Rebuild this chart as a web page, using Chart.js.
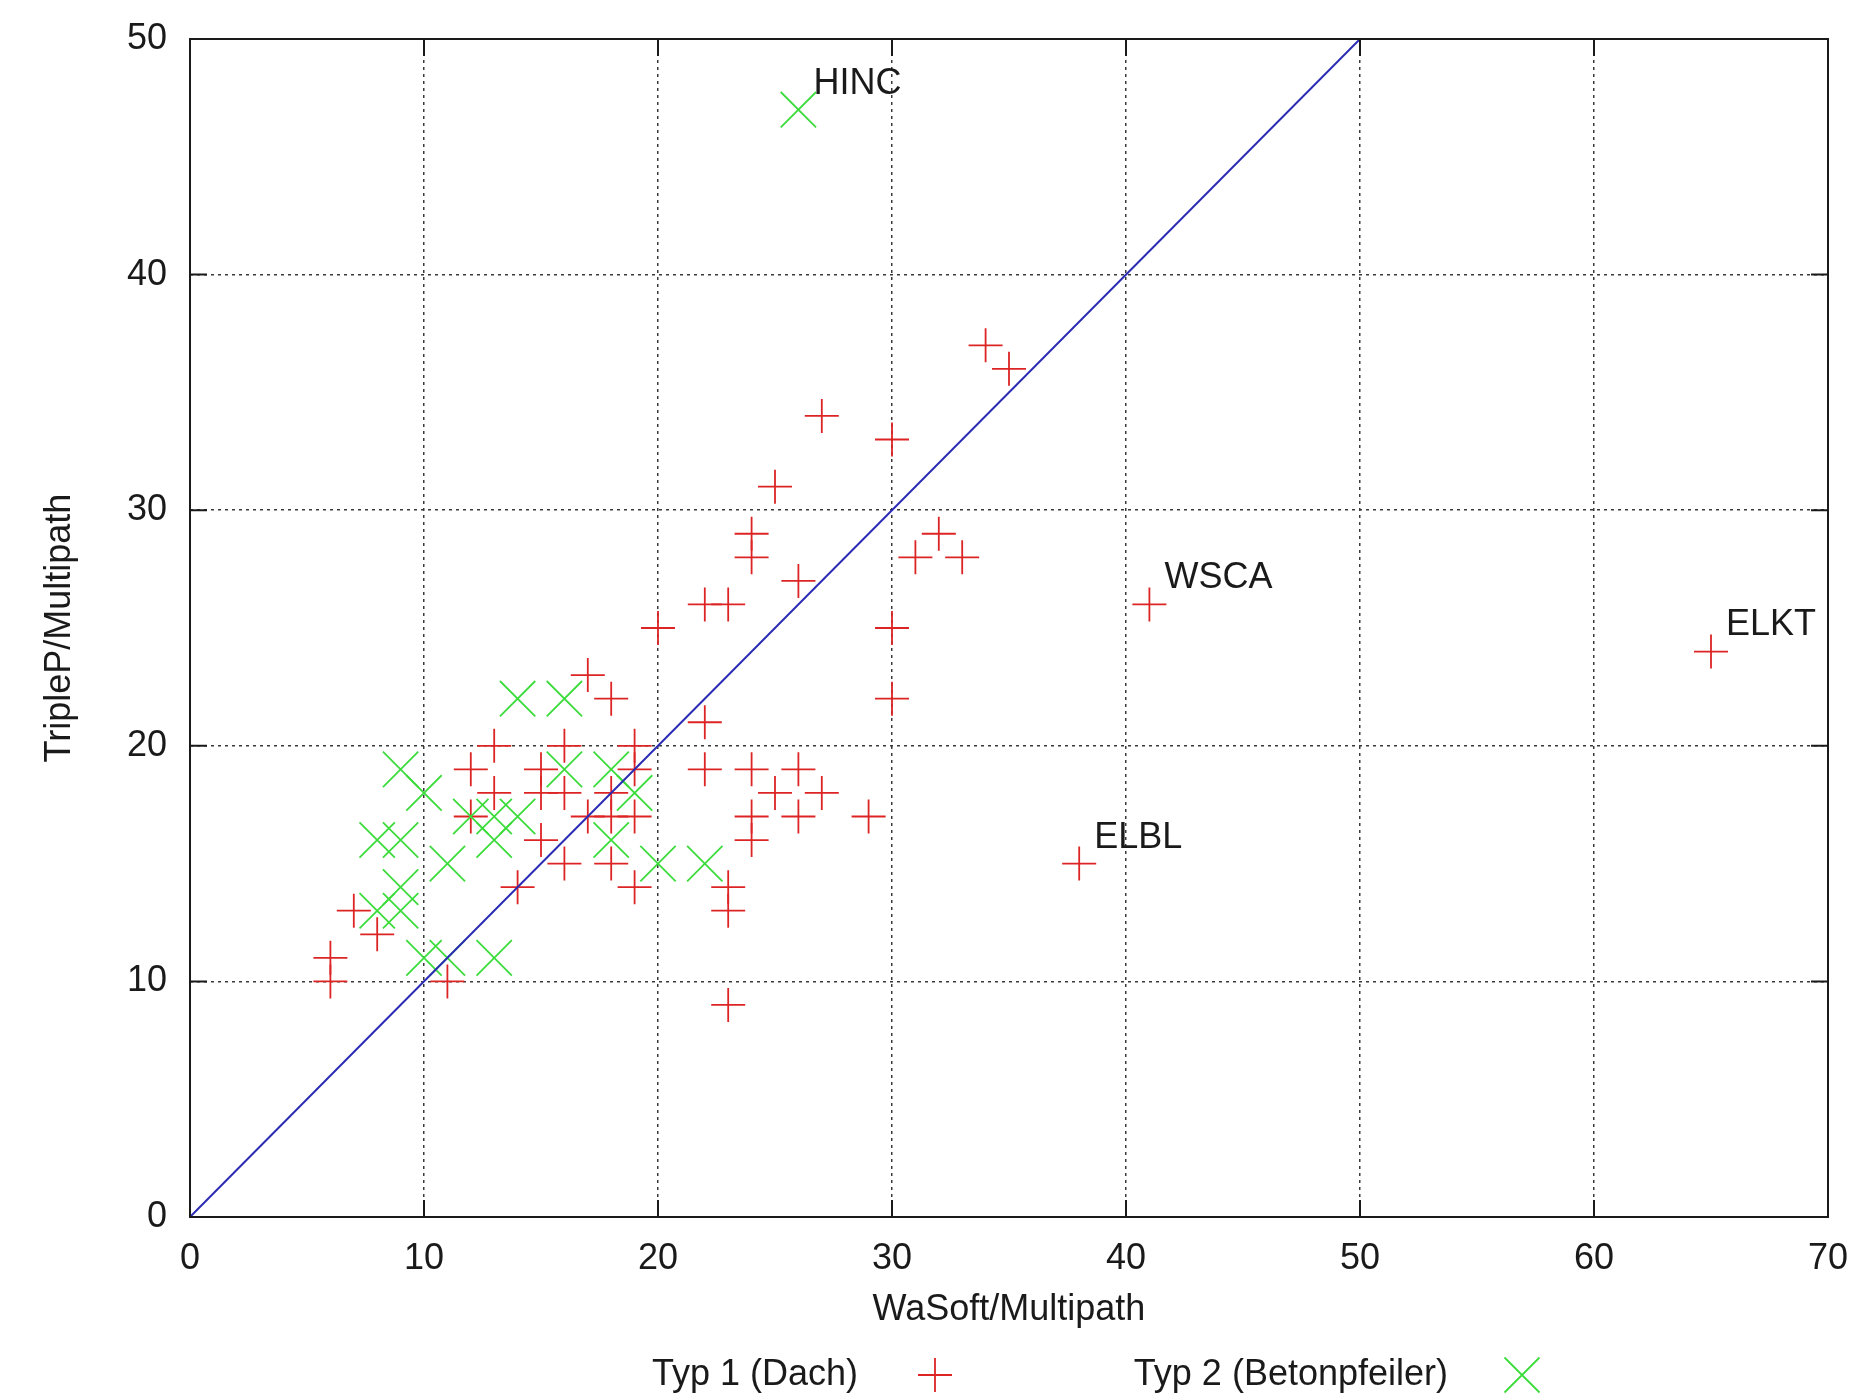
<!DOCTYPE html>
<html>
<head>
<meta charset="utf-8">
<script src="https://cdn.jsdelivr.net/npm/chart.js@4/dist/chart.umd.min.js"></script>
<style>
html,body{margin:0;padding:0;background:#ffffff;}
#wrap{width:1876px;height:1400px;}
</style>
</head>
<body>
<div id="wrap"><canvas id="c" width="1876" height="1400"></canvas></div>
<script>
// ---- data ----
const xTicks = [0, 10, 20, 30, 40, 50, 60, 70];
const yTicks = [0, 10, 20, 30, 40, 50];

const typ1X = [6, 6, 7, 8, 11, 12, 12, 13, 13, 14, 15, 15, 15, 16, 16, 16, 17, 17, 18, 18, 18, 18, 19, 19, 19, 19,
               20, 22, 23, 22, 22, 23, 23, 23, 24, 24, 24, 24, 24, 25, 25, 26, 26, 26, 27, 27, 29, 30, 30, 30,
               31, 32, 33, 34, 35, 38, 41, 65];
const typ1Y = [10, 11, 13, 12, 10, 19, 17, 20, 18, 14, 19, 18, 16, 20, 18, 15, 23, 17, 22, 18, 17, 15, 20, 19, 17, 14,
               25, 26, 26, 21, 19, 14, 13, 9, 29, 28, 19, 17, 16, 31, 18, 27, 19, 17, 34, 18, 17, 33, 25, 22,
               28, 29, 28, 37, 36, 15, 26, 24];

const typ2X = [8, 9, 8, 9, 9, 9, 10, 10, 11, 11, 12, 13, 14, 13, 13, 14, 16, 16, 18, 19, 18, 20, 22, 26];
const typ2Y = [16, 16, 13, 13, 14, 19, 18, 11, 11, 15, 17, 17, 17, 16, 11, 22, 22, 19, 19, 18, 16, 15, 15, 47];

const refLineX = [0, 50];
const refLineY = [0, 50];

const labelNames = ['HINC', 'WSCA', 'ELBL', 'ELKT'];
const labelX = [26, 41, 38, 65];
const labelY = [47, 26, 15, 24];

const seriesNames = ['Typ 1 (Dach)', 'Typ 2 (Betonpfeiler)'];
const xTitle = 'WaSoft/Multipath';
const yTitle = 'TripleP/Multipath';

// ---- styles ----
const FONT = '"Liberation Sans", Arial, Helvetica, sans-serif';
const FS = 36;
const TXT = '#1a1a1a';
const RED = '#dd2424';
const GREEN = '#3ddc3d';
const BLUE = '#2a2ab4';

const toPts = (xs, ys) => xs.map((v, i) => ({x: v, y: ys[i]}));

const decor = {
  id: 'decor',
  afterDatasetsDraw(chart) {
    const {ctx, chartArea: a, scales: {x, y}} = chart;
    ctx.save();
    ctx.strokeStyle = TXT;
    ctx.lineWidth = 2;
    ctx.setLineDash([]);
    ctx.strokeRect(a.left, a.top, a.right - a.left, a.bottom - a.top);
    const tl = 17;
    ctx.beginPath();
    xTicks.forEach(v => {
      const px = x.getPixelForValue(v);
      ctx.moveTo(px, a.bottom); ctx.lineTo(px, a.bottom - tl);
      ctx.moveTo(px, a.top); ctx.lineTo(px, a.top + tl);
    });
    yTicks.forEach(v => {
      const py = y.getPixelForValue(v);
      ctx.moveTo(a.left, py); ctx.lineTo(a.left + tl, py);
      ctx.moveTo(a.right, py); ctx.lineTo(a.right - tl, py);
    });
    ctx.stroke();
    ctx.font = FS + 'px ' + FONT;
    ctx.fillStyle = TXT;
    ctx.textAlign = 'left';
    ctx.textBaseline = 'middle';
    labelNames.forEach((n, i) => {
      ctx.fillText(n, x.getPixelForValue(labelX[i]) + 15, y.getPixelForValue(labelY[i]) - 26);
    });
    ctx.restore();
  },
  afterDraw(chart) {
    const {ctx} = chart;
    ctx.save();
    const ly = 1375;
    ctx.font = FS + 'px ' + FONT;
    ctx.fillStyle = TXT;
    ctx.textAlign = 'right';
    ctx.textBaseline = 'middle';
    ctx.fillText(seriesNames[0], 858, ly);
    ctx.fillText(seriesNames[1], 1448, ly);
    ctx.lineWidth = 1.8;
    ctx.strokeStyle = RED;
    ctx.beginPath();
    ctx.moveTo(935 - 17, ly); ctx.lineTo(935 + 17, ly);
    ctx.moveTo(935, ly - 17); ctx.lineTo(935, ly + 17);
    ctx.stroke();
    ctx.strokeStyle = GREEN;
    const r = 17.5;
    ctx.beginPath();
    ctx.moveTo(1522 - r, ly - r); ctx.lineTo(1522 + r, ly + r);
    ctx.moveTo(1522 - r, ly + r); ctx.lineTo(1522 + r, ly - r);
    ctx.stroke();
    ctx.restore();
  }
};

const gridCommon = {
  color: '#3a3a3a',
  lineWidth: 1.5,
  drawTicks: false
};

new Chart(document.getElementById('c'), {
  type: 'scatter',
  data: {
    datasets: [
      {
        type: 'line',
        label: 'x=y',
        data: toPts(refLineX, refLineY),
        borderColor: BLUE,
        borderWidth: 2,
        pointRadius: 0,
        fill: false,
        tension: 0
      },
      {
        label: seriesNames[1],
        data: toPts(typ2X, typ2Y),
        pointStyle: 'crossRot',
        pointRadius: 25,
        borderColor: GREEN,
        backgroundColor: GREEN,
        pointBorderColor: GREEN,
        pointBorderWidth: 1.8
      },
      {
        label: seriesNames[0],
        data: toPts(typ1X, typ1Y),
        pointStyle: 'cross',
        pointRadius: 17,
        borderColor: RED,
        backgroundColor: RED,
        pointBorderColor: RED,
        pointBorderWidth: 1.8
      }
    ]
  },
  options: {
    responsive: false,
    animation: false,
    devicePixelRatio: 1,
    events: [],
    layout: {padding: {left: 0, right: 48, top: 39, bottom: 0}},
    plugins: {
      legend: {display: false},
      tooltip: {enabled: false}
    },
    scales: {
      x: {
        type: 'linear',
        min: 0, max: 70,
        afterFit: s => { s.height = 183; s.paddingLeft = 0; s.paddingRight = 0; },
        afterBuildTicks: s => { s.ticks = xTicks.map(v => ({value: v})); },
        ticks: {color: TXT, font: {family: FONT, size: FS}, padding: 20, maxRotation: 0},
        grid: gridCommon,
        border: {display: false, dash: [3, 4]},
        title: {display: true, text: xTitle, color: TXT, font: {family: FONT, size: FS}, padding: {top: 0, bottom: 68}}
      },
      y: {
        type: 'linear',
        min: 0, max: 50,
        afterFit: s => { s.width = 190; s.paddingTop = 0; s.paddingBottom = 0; },
        afterBuildTicks: s => { s.ticks = yTicks.map(v => ({value: v})); },
        ticks: {color: TXT, font: {family: FONT, size: FS}, padding: 23},
        grid: gridCommon,
        border: {display: false, dash: [3, 4]},
        title: {display: true, text: yTitle, color: TXT, font: {family: FONT, size: FS}, padding: {top: 38, bottom: 0}}
      }
    }
  },
  plugins: [decor]
});
</script>
</body>
</html>
